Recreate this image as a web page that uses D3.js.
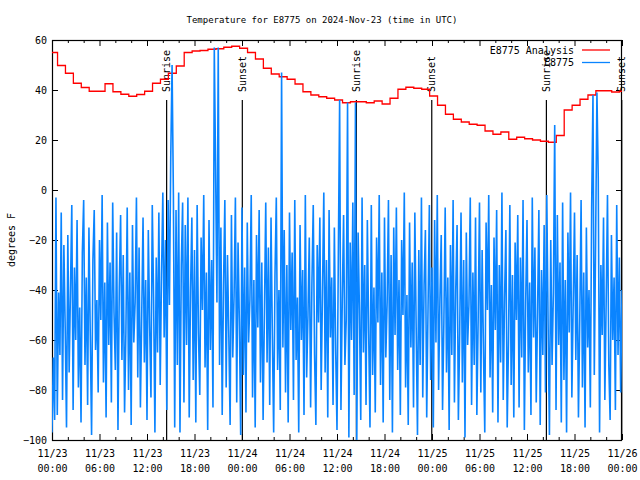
<!DOCTYPE html>
<html><head><meta charset="utf-8">
<script src="https://cdn.jsdelivr.net/npm/d3@7"></script>
<style>
body{margin:0;background:#fff}
svg text{font-family:"DejaVu Sans Mono","Liberation Mono",monospace;font-size:10px;fill:#000}
</style>
</head><body>
<svg id="chart" width="640" height="480"></svg>
<script>
// ---------- data ----------
const chartTitle = "Temperature for E8775 on 2024-Nov-23 (time in UTC)";
const yAxisLabel = "degrees F";
const yTickValues = [-100, -80, -60, -40, -20, 0, 20, 40, 60];
const xTickDates = ["11/23","11/23","11/23","11/23","11/24","11/24","11/24","11/24","11/25","11/25","11/25","11/25","11/26"];
const xTickTimes = ["00:00","06:00","12:00","18:00","00:00","06:00","12:00","18:00","00:00","06:00","12:00","18:00","00:00"];
const legendNames = ["E8775 Analysis", "E8775"];

// analysis (hourly, first value valid from 2024-11-22 23:42 UTC)
const analysisValues = [55,49.8,46.7,42.7,41,39.5,39.5,42.5,39.3,38.3,37.5,38.2,39.5,42.7,44.3,46.7,49.6,55,55.6,55.8,56.3,56.5,57.1,57.5,
  56.7,55,52.4,48.7,46.4,45.3,44.3,42.4,39.3,38,37.3,36.7,36,34.9,35.3,35.3,34.9,35.6,34.4,36.7,40.3,41.1,40.7,40.3,
  37.6,33.9,30.3,28.3,27.2,26.3,25.9,23.6,22.3,23.2,20.3,21.1,20.5,20,19.5,19.1,21.8,32,33.9,36.3,38,39.7,39.7,39.2,39.5];

// station observations every 10 minutes from 2024-11-23 00:00 UTC
const stationValues = [
  -97,-67,-92,-3,-90,-41,-66,-9,-84,-22,-55,-95,-18,-73,-40,-6,-88,-31,-60,-12,-79,-47,-93,-25,-4,-70,-35,-86,-15,-58,-98,-28,-8,-64,-44,-81,
  -20,-52,-2,-77,-37,-91,-13,-62,-29,-85,-5,-49,-72,-17,-96,-39,-10,-68,-26,-89,-57,-7,-80,-33,-94,-14,-61,-45,-3,-75,-23,-87,-50,-11,-69,-36,
  -92,-16,-54,-83,-6,-43,-97,-27,-65,-9,-78,-34,-1,-59,-20,-88,-4,-46,13,50,-2,-95,-8,-70,-1,-97,-30,-5,-85,-14,-62,-3,-91,-40,-11,-76,
  -24,-93,-6,-57,-82,-19,-48,-2,-71,-33,-96,-12,-64,-28,-87,57,8,-45,57,-70,-15,-90,-38,-4,-79,-26,-58,-94,-10,-67,-42,-3,-85,-21,-53,-98,
  -7,-74,-31,-89,-13,-61,-44,-2,-83,-36,-95,-18,-55,-8,-77,-29,-92,-49,-5,-69,-23,-86,-11,-58,-97,-34,-3,-72,-40,-88,47,-63,-16,-81,-30,-93,
  -9,-56,-25,-84,-4,-68,-43,-97,-14,-60,-32,-90,-2,-75,-50,-19,-87,-37,-6,-66,-94,-22,-53,-11,-80,-41,-1,-73,-28,-91,-8,-59,-35,-86,-15,-64,
  -96,-27,36,-88,-44,-10,-70,-52,35,-99,-21,-60,-5,-82,35,-100,-17,-48,-92,-3,-65,-30,-86,-12,-57,-95,-6,-74,-39,-89,-19,-53,-2,-78,-33,-93,
  -11,-67,-45,-4,-84,-26,-97,-15,-58,-7,-72,-36,-90,-20,-50,-1,-79,-42,-94,-13,-63,-29,-87,-9,-55,-98,-24,-70,-3,-83,-38,-16,-91,-47,-6,-76,
  -31,-95,-12,-61,-2,-80,-44,-18,-88,-53,-7,-73,-35,-96,-22,-66,-4,-85,-40,-14,-92,-57,-9,-77,-28,-99,-17,-62,-46,-3,-86,-33,-70,-11,-90,-51,
  -5,-81,-24,-64,-97,-13,-48,-2,-75,-38,-89,-19,-56,-8,-93,-30,-69,-1,-84,-43,-16,-95,-60,-6,-78,-34,-91,-21,-52,-10,-87,-27,-67,-4,-96,-45,
  -12,-73,-37,-90,-3,-59,-23,-85,-49,-8,-94,-32,-66,-14,-81,-2,-54,-98,-20,-70,-41,26,-88,-10,-62,-29,-93,-5,-76,-36,-97,-17,-57,-1,-83,-46,
  -9,-68,-26,-91,-52,-4,-79,-33,-95,-15,-63,-40,-87,-7,38,-74,-21,39,5,-97,-30,-58,-11,-84,-45,-2,-70,-92,-18,-60,-35,-88,-6,-66,-27,-81,
  -40];

// sun events (hours after 2024-11-23 00:00 UTC)
const sunEventNames = ["Sunrise","Sunset","Sunrise","Sunset","Sunrise","Sunset"];
const sunEventHours = [14.48, 24.04, 38.45, 47.97, 62.45, 71.97];
const sunLineTop = 36;

// ---------- layout ----------
const W = 640, H = 480;
const M = {left: 52, right: 18, top: 40, bottom: 40};
const HOUR = 3600e3;
const t0 = Date.UTC(2024, 10, 23, 0, 0);
const t1 = Date.UTC(2024, 10, 26, 0, 0);
const analysisStart = Date.UTC(2024, 10, 22, 23, 42);

const svg = d3.select("#chart");
const x = d3.scaleUtc().domain([t0, t1]).range([M.left, W - M.right]);
const y = d3.scaleLinear().domain([-100, 60]).range([H - M.bottom, M.top]);

svg.append("defs").append("clipPath").attr("id", "plotclip")
  .append("rect").attr("x", M.left).attr("y", M.top)
  .attr("width", W - M.left - M.right).attr("height", H - M.top - M.bottom);

const majorTicks = d3.range(0, 73, 6).map(h => new Date(t0 + h * HOUR));
const minorTicks = d3.range(0, 73, 2).filter(h => h % 6 !== 0).map(h => new Date(t0 + h * HOUR));

function styleAxis(g) {
  g.select(".domain").remove();
  g.selectAll(".tick line").attr("stroke", "#000").attr("stroke-width", 1);
  g.attr("font-family", null).attr("font-size", null);
}

// bottom axis (inward ticks) with two-line labels
const gB = svg.append("g").attr("transform", `translate(0,${H - M.bottom})`)
  .call(d3.axisBottom(x).tickValues(majorTicks).tickSize(-6).tickSizeOuter(0).tickPadding(10).tickFormat(() => ""))
  .call(styleAxis);
gB.selectAll(".tick text").each(function(d, i) {
  const t = d3.select(this);
  t.append("tspan").attr("x", 0).attr("dy", "0.71em").text(xTickDates[i]);
  t.append("tspan").attr("x", 0).attr("dy", "1.45em").text(xTickTimes[i]);
});
svg.append("g").attr("transform", `translate(0,${H - M.bottom})`)
  .call(d3.axisBottom(x).tickValues(minorTicks).tickSize(-3).tickSizeOuter(0).tickFormat(() => ""))
  .call(styleAxis);
// top axis mirror
svg.append("g").attr("transform", `translate(0,${M.top})`)
  .call(d3.axisTop(x).tickValues(majorTicks).tickSize(-6).tickSizeOuter(0).tickFormat(() => ""))
  .call(styleAxis);
svg.append("g").attr("transform", `translate(0,${M.top})`)
  .call(d3.axisTop(x).tickValues(minorTicks).tickSize(-3).tickSizeOuter(0).tickFormat(() => ""))
  .call(styleAxis);
// left axis
svg.append("g").attr("transform", `translate(${M.left},0)`)
  .call(d3.axisLeft(y).tickValues(yTickValues).tickSize(-6).tickSizeOuter(0).tickPadding(5).tickFormat(d3.format("d")))
  .call(styleAxis);
// right axis mirror
svg.append("g").attr("transform", `translate(${W - M.right},0)`)
  .call(d3.axisRight(y).tickValues(yTickValues).tickSize(-6).tickSizeOuter(0).tickFormat(() => ""))
  .call(styleAxis);

// frame
svg.append("rect").attr("x", M.left + 0.5).attr("y", M.top + 0.5)
  .attr("width", W - M.left - M.right - 1).attr("height", H - M.top - M.bottom)
  .attr("fill", "none").attr("stroke", "#000").attr("stroke-width", 1.2);

// titles
svg.append("text").attr("x", 322).attr("y", 23).style("font-size", "9px")
  .attr("text-anchor", "middle").text(chartTitle);
svg.append("text").attr("transform", `translate(15,${(M.top + H - M.bottom) / 2}) rotate(-90)`)
  .attr("text-anchor", "middle").text(yAxisLabel);

// sun event lines + labels
const sunG = svg.append("g");
sunEventHours.forEach((h, i) => {
  const xx = x(new Date(t0 + h * HOUR));
  sunG.append("line").attr("x1", xx).attr("x2", xx).attr("y1", y(sunLineTop)).attr("y2", y(-100))
    .attr("stroke", "#000").attr("stroke-width", 1.2);
  sunG.append("text").attr("transform", `translate(${xx},${y(sunLineTop) - 8}) rotate(-90)`)
    .attr("text-anchor", "start").attr("dominant-baseline", "central").text(sunEventNames[i]);
});

// analysis line (steps)
const analysisData = analysisValues.map((v, k) => ({t: new Date(analysisStart + k * HOUR), v}));
analysisData.push({t: new Date(analysisStart + analysisValues.length * HOUR), v: analysisValues[analysisValues.length - 1]});
svg.append("path").datum(analysisData).attr("clip-path", "url(#plotclip)")
  .attr("fill", "none").attr("stroke", "#ff0000").attr("stroke-width", 1.3)
  .attr("d", d3.line().x(d => x(d.t)).y(d => y(d.v)).curve(d3.curveStepAfter));

// station line
const stationData = stationValues.map((v, i) => ({t: new Date(t0 + i * 10 * 60e3), v}));
svg.append("path").datum(stationData).attr("clip-path", "url(#plotclip)")
  .attr("fill", "none").attr("stroke", "#0a84ff").attr("stroke-width", 1.6)
  .attr("d", d3.line().x(d => x(d.t)).y(d => y(d.v)));

// legend
const legColors = ["#ff0000", "#0a84ff"];
legendNames.forEach((n, i) => {
  const ly = 50 + i * 12.5;
  svg.append("text").attr("x", 574).attr("y", ly).attr("text-anchor", "end")
    .attr("dominant-baseline", "central").text(n);
  svg.append("line").attr("x1", 582).attr("x2", 610).attr("y1", ly).attr("y2", ly)
    .attr("stroke", legColors[i]).attr("stroke-width", 1.3);
});
</script>
</body></html>
